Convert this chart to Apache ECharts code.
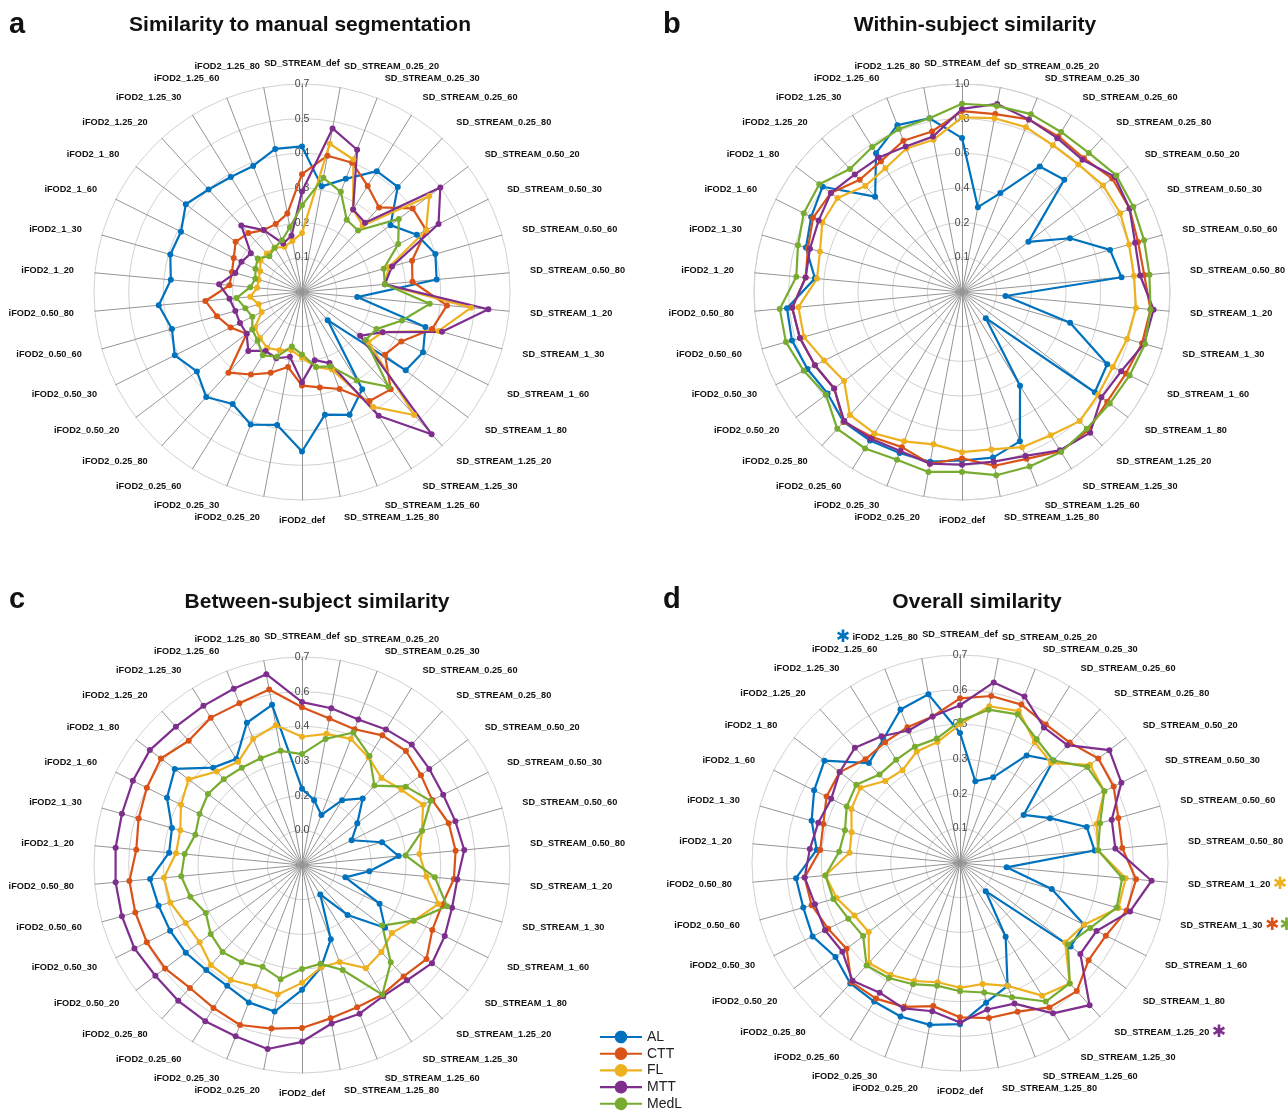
<!DOCTYPE html>
<html>
<head>
<meta charset="utf-8">
<title>Tractography similarity radar charts</title>
<script src="https://cdn.jsdelivr.net/npm/echarts@6/dist/echarts.min.js"></script>
<style>
    html, body { margin: 0; padding: 0; background: #fff; }
    #chart { width: 1288px; height: 1113px; }
</style>
</head>
<body>
<div id="chart"></div>
<script>
// spokes, listed clockwise starting at the top
const indicators = [
    'SD_STREAM_def',
    'SD_STREAM_0.25_20', 'SD_STREAM_0.25_30', 'SD_STREAM_0.25_60', 'SD_STREAM_0.25_80',
    'SD_STREAM_0.50_20', 'SD_STREAM_0.50_30', 'SD_STREAM_0.50_60', 'SD_STREAM_0.50_80',
    'SD_STREAM_1_20', 'SD_STREAM_1_30', 'SD_STREAM_1_60', 'SD_STREAM_1_80',
    'SD_STREAM_1.25_20', 'SD_STREAM_1.25_30', 'SD_STREAM_1.25_60', 'SD_STREAM_1.25_80',
    'iFOD2_def',
    'iFOD2_0.25_20', 'iFOD2_0.25_30', 'iFOD2_0.25_60', 'iFOD2_0.25_80',
    'iFOD2_0.50_20', 'iFOD2_0.50_30', 'iFOD2_0.50_60', 'iFOD2_0.50_80',
    'iFOD2_1_20', 'iFOD2_1_30', 'iFOD2_1_60', 'iFOD2_1_80',
    'iFOD2_1.25_20', 'iFOD2_1.25_30', 'iFOD2_1.25_60', 'iFOD2_1.25_80'
]
const methods = ['AL', 'CTT', 'FL', 'MTT', 'MedL']
const colors = ['#0072BD', '#D95319', '#EDB120', '#7E2F8E', '#77AC30']

// ring labels as printed (centre first)
const segTicks = ['', '0.1', '0.2', '0.3', '0.4', '0.5', '0.7']
const withinTicks = ['', '0.1', '0.2', '0.4', '0.6', '0.8', '1.0']
const betweenTicks = ['', '0.0', '0.2', '0.3', '0.4', '0.6', '0.7']
const overallTicks = ['', '0.1', '0.2', '0.3', '0.5', '0.6', '0.7']

// a: similarity to manual segmentation
const segAL = [0.42, 0.31, 0.35, 0.41, 0.41, 0.32, 0.37, 0.40, 0.39, 0.16, 0.37, 0.39, 0.375, 0.11, 0.33, 0.38, 0.36,
    0.46, 0.39, 0.41, 0.38, 0.41, 0.38, 0.41, 0.39, 0.415, 0.38, 0.395, 0.39, 0.42, 0.40, 0.39, 0.39, 0.42]
const segCTT = [0.34, 0.40, 0.40, 0.36, 0.33, 0.40, 0.40, 0.33, 0.32, 0.42, 0.39, 0.32, 0.30, 0.38, 0.37, 0.30, 0.28,
    0.27, 0.22, 0.25, 0.28, 0.315, 0.20, 0.23, 0.255, 0.28, 0.21, 0.21, 0.22, 0.24, 0.23, 0.21, 0.21, 0.23]
const segFL = [0.17, 0.435, 0.41, 0.28, 0.26, 0.46, 0.40, 0.26, 0.24, 0.49, 0.41, 0.26, 0.24, 0.48, 0.39, 0.24, 0.22,
    0.19, 0.17, 0.18, 0.19, 0.18, 0.17, 0.13, 0.13, 0.15, 0.13, 0.13, 0.135, 0.15, 0.15, 0.15, 0.14, 0.15]
const segMTT = [0.29, 0.48, 0.44, 0.28, 0.27, 0.50, 0.44, 0.27, 0.24, 0.54, 0.42, 0.26, 0.21, 0.555, 0.42, 0.22, 0.20,
    0.26, 0.19, 0.205, 0.20, 0.23, 0.20, 0.20, 0.20, 0.21, 0.24, 0.20, 0.195, 0.185, 0.26, 0.21, 0.15, 0.165]
const segMedL = [0.25, 0.335, 0.31, 0.245, 0.24, 0.35, 0.31, 0.245, 0.24, 0.37, 0.30, 0.24, 0.23, 0.37, 0.30, 0.23, 0.22,
    0.18, 0.16, 0.20, 0.215, 0.19, 0.18, 0.16, 0.17, 0.19, 0.15, 0.14, 0.15, 0.16, 0.14, 0.15, 0.16, 0.19]

// b: within-subject similarity
const withinAL = [0.74, 0.415, 0.51, 0.71, 0.73, 0.40, 0.58, 0.74, 0.77, 0.21, 0.54, 0.78, 0.80, 0.17, 0.53, 0.77, 0.81,
    0.81, 0.83, 0.83, 0.84, 0.845, 0.81, 0.83, 0.85, 0.845, 0.71, 0.78, 0.81, 0.84, 0.62, 0.785, 0.86, 0.85]
const withinCTT = [0.87, 0.87, 0.89, 0.88, 0.87, 0.905, 0.90, 0.88, 0.88, 0.91, 0.90, 0.88, 0.875, 0.90, 0.90, 0.86, 0.85,
    0.80, 0.84, 0.80, 0.82, 0.845, 0.77, 0.79, 0.81, 0.82, 0.755, 0.77, 0.80, 0.79, 0.73, 0.74, 0.78, 0.785]
const withinFL = [0.84, 0.85, 0.85, 0.83, 0.83, 0.85, 0.85, 0.835, 0.83, 0.84, 0.825, 0.81, 0.82, 0.84, 0.81, 0.80, 0.77,
    0.77, 0.745, 0.77, 0.80, 0.80, 0.71, 0.74, 0.79, 0.79, 0.70, 0.71, 0.75, 0.75, 0.69, 0.70, 0.74, 0.745]
const withinMTT = [0.88, 0.92, 0.89, 0.87, 0.86, 0.92, 0.90, 0.865, 0.86, 0.925, 0.91, 0.855, 0.84, 0.915, 0.895, 0.845, 0.83,
    0.83, 0.84, 0.82, 0.83, 0.84, 0.77, 0.79, 0.81, 0.82, 0.755, 0.76, 0.77, 0.79, 0.765, 0.76, 0.75, 0.76]
const withinMedL = [0.905, 0.91, 0.917, 0.905, 0.905, 0.93, 0.92, 0.91, 0.905, 0.91, 0.915, 0.90, 0.89, 0.89, 0.905, 0.90, 0.896,
    0.865, 0.88, 0.865, 0.885, 0.89, 0.82, 0.85, 0.88, 0.88, 0.80, 0.82, 0.85, 0.86, 0.80, 0.82, 0.84, 0.85]

// c: between-subject similarity
const betweenAL = [0.22, 0.19, 0.155, 0.22, 0.26, 0.20, 0.16, 0.24, 0.28, 0.195, 0.13, 0.25, 0.30, 0.195, 0.10, 0.23, 0.30,
    0.36, 0.43, 0.425, 0.41, 0.41, 0.42, 0.425, 0.43, 0.44, 0.385, 0.39, 0.435, 0.46, 0.38, 0.36, 0.44, 0.47]
const betweenCTT = [0.455, 0.43, 0.42, 0.44, 0.445, 0.43, 0.42, 0.44, 0.445, 0.44, 0.42, 0.42, 0.45, 0.435, 0.44, 0.44, 0.45,
    0.47, 0.48, 0.495, 0.485, 0.48, 0.495, 0.50, 0.50, 0.50, 0.48, 0.49, 0.50, 0.51, 0.485, 0.50, 0.50, 0.515]
const betweenFL = [0.37, 0.385, 0.39, 0.365, 0.34, 0.36, 0.39, 0.36, 0.34, 0.36, 0.41, 0.36, 0.325, 0.34, 0.35, 0.30, 0.30,
    0.34, 0.38, 0.375, 0.39, 0.39, 0.37, 0.375, 0.395, 0.40, 0.365, 0.365, 0.39, 0.41, 0.365, 0.35, 0.39, 0.41]
const betweenMTT = [0.47, 0.46, 0.45, 0.46, 0.47, 0.46, 0.455, 0.46, 0.47, 0.45, 0.45, 0.46, 0.47, 0.45, 0.445, 0.46, 0.465,
    0.51, 0.54, 0.53, 0.53, 0.53, 0.53, 0.54, 0.54, 0.54, 0.54, 0.54, 0.545, 0.55, 0.54, 0.54, 0.545, 0.56]
const betweenMedL = [0.32, 0.37, 0.41, 0.37, 0.31, 0.375, 0.415, 0.36, 0.30, 0.385, 0.435, 0.36, 0.29, 0.38, 0.44, 0.325, 0.29,
    0.30, 0.335, 0.315, 0.33, 0.34, 0.33, 0.31, 0.335, 0.35, 0.34, 0.32, 0.33, 0.34, 0.335, 0.33, 0.33, 0.335]

// d: overall similarity
const overallAL = [0.375, 0.24, 0.265, 0.365, 0.40, 0.23, 0.29, 0.38, 0.39, 0.135, 0.275, 0.40, 0.40, 0.11, 0.25, 0.38, 0.41,
    0.465, 0.475, 0.475, 0.47, 0.47, 0.45, 0.475, 0.47, 0.475, 0.415, 0.445, 0.47, 0.49, 0.39, 0.42, 0.475, 0.495]
const overallCTT = [0.475, 0.49, 0.49, 0.47, 0.47, 0.50, 0.495, 0.475, 0.47, 0.51, 0.50, 0.47, 0.465, 0.50, 0.49, 0.46, 0.455,
    0.445, 0.42, 0.445, 0.46, 0.465, 0.41, 0.425, 0.445, 0.45, 0.405, 0.41, 0.43, 0.435, 0.405, 0.41, 0.42, 0.43]
const overallFL = [0.40, 0.46, 0.47, 0.41, 0.39, 0.47, 0.465, 0.41, 0.40, 0.48, 0.475, 0.40, 0.38, 0.47, 0.45, 0.38, 0.355,
    0.36, 0.35, 0.365, 0.38, 0.39, 0.33, 0.34, 0.37, 0.39, 0.32, 0.325, 0.35, 0.36, 0.32, 0.315, 0.345, 0.355]
const overallMTT = [0.455, 0.53, 0.515, 0.46, 0.46, 0.54, 0.52, 0.455, 0.45, 0.555, 0.51, 0.44, 0.435, 0.555, 0.51, 0.435, 0.43,
    0.46, 0.435, 0.45, 0.44, 0.46, 0.425, 0.435, 0.435, 0.45, 0.435, 0.425, 0.415, 0.435, 0.45, 0.43, 0.41, 0.43]
const overallMedL = [0.41, 0.45, 0.46, 0.42, 0.40, 0.46, 0.465, 0.42, 0.40, 0.47, 0.47, 0.42, 0.39, 0.47, 0.47, 0.415, 0.38,
    0.37, 0.36, 0.375, 0.39, 0.40, 0.35, 0.36, 0.38, 0.39, 0.35, 0.345, 0.365, 0.375, 0.345, 0.35, 0.36, 0.365]

// starred spokes in panel d and the methods they belong to
const overallStars = {
    'iFOD2_1.25_80': ['AL'],
    'SD_STREAM_1_20': ['FL'],
    'SD_STREAM_1_30': ['CTT', 'MedL'],
    'SD_STREAM_1.25_20': ['MTT']
}

const panels = [
    { letter: 'a', title: 'Similarity to manual segmentation', center: [302, 292], titleAt: [300, 25], letterAt: [9, 25],
      max: 0.6, ticks: segTicks, series: [segAL, segCTT, segFL, segMTT, segMedL] },
    { letter: 'b', title: 'Within-subject similarity', center: [962, 292], titleAt: [975, 25], letterAt: [663, 25],
      max: 1.0, ticks: withinTicks, series: [withinAL, withinCTT, withinFL, withinMTT, withinMedL] },
    { letter: 'c', title: 'Between-subject similarity', center: [302, 865], titleAt: [317, 602], letterAt: [9, 600],
      max: 0.6, ticks: betweenTicks, series: [betweenAL, betweenCTT, betweenFL, betweenMTT, betweenMedL] },
    { letter: 'd', title: 'Overall similarity', center: [960, 863], titleAt: [977, 602], letterAt: [663, 600],
      max: 0.6, ticks: overallTicks, series: [overallAL, overallCTT, overallFL, overallMTT, overallMedL], stars: overallStars }
]

// echarts lays radar spokes out anticlockwise, the figure runs clockwise
const toRadarOrder = arr => arr.map((_, k) => arr[(arr.length - k) % arr.length])

const font = '"Liberation Sans", Arial, Helvetica, sans-serif'

const starRich = {}
methods.forEach((m, i) => {
    starRich[m] = { color: colors[i], fontSize: 17, fontWeight: 'bold', fontFamily: '"DejaVu Sans", sans-serif' }
})

const option = {
    animation: false,
    backgroundColor: '#fff',
    color: colors,
    graphic: panels.flatMap(p => [
        { type: 'text', x: p.titleAt[0], y: p.titleAt[1],
          style: { text: p.title, font: 'bold 21px ' + font, fill: '#111', align: 'center', verticalAlign: 'middle' } },
        { type: 'text', x: p.letterAt[0], y: p.letterAt[1],
          style: { text: p.letter, font: 'bold 29px ' + font, fill: '#111', align: 'left', verticalAlign: 'middle' } }
    ]),
    legend: {
        data: methods,
        orient: 'vertical',
        left: 600,
        top: 1030,
        height: 82,
        padding: 0,
        itemWidth: 42,
        itemHeight: 13,
        itemGap: 2.7,
        icon: 'path://M0,5H14.08A6,6,0,0,1,25.92,5H40V7H25.92A6,6,0,0,1,14.08,7H0Z',
        textStyle: { fontSize: 14, lineHeight: 14, color: '#222', fontFamily: font }
    },
    radar: panels.map(p => ({
        center: p.center,
        radius: 208,
        startAngle: 90,
        shape: 'circle',
        splitNumber: 6,
        nameGap: 21,
        indicator: toRadarOrder(indicators).map((name, j) => {
            const ind = { name: name, min: 0, max: p.max }
            // labels straight above / below sit closer to the rim
            if (name.endsWith('_def')) ind.nameGap = 16
            if (j === 0) ind.axisLabel = { show: true }
            return ind
        }),
        axisName: {
            color: '#111',
            fontSize: 9.2,
            fontWeight: 'bold',
            fontFamily: font,
            rich: starRich,
            formatter: name => {
                const marks = p.stars && p.stars[name]
                if (!marks) return name
                const s = marks.map(m => '{' + m + '|✱}').join('')
                return name.indexOf('iFOD2') === 0 ? s + ' ' + name : name + ' ' + s
            }
        },
        axisLine: { lineStyle: { color: '#959595', width: 1 } },
        splitLine: { lineStyle: { color: '#d2d2d2', width: 1 } },
        splitArea: { show: false },
        axisTick: { show: false },
        axisLabel: {
            show: false,
            margin: 0,
            align: 'center',
            verticalAlign: 'middle',
            color: '#444',
            fontSize: 10.5,
            fontFamily: font,
            formatter: (v, i) => p.ticks[i] || ''
        }
    })),
    series: panels.flatMap((p, k) => p.series.map((vals, i) => ({
        type: 'radar',
        radarIndex: k,
        name: methods[i],
        symbol: 'circle',
        symbolSize: 6,
        lineStyle: { width: 2.2, color: colors[i] },
        itemStyle: { color: colors[i] },
        data: [{ name: methods[i], value: toRadarOrder(vals) }]
    })))
}

const myChart = echarts.init(document.getElementById('chart'))
myChart.setOption(option)
</script>
</body>
</html>
